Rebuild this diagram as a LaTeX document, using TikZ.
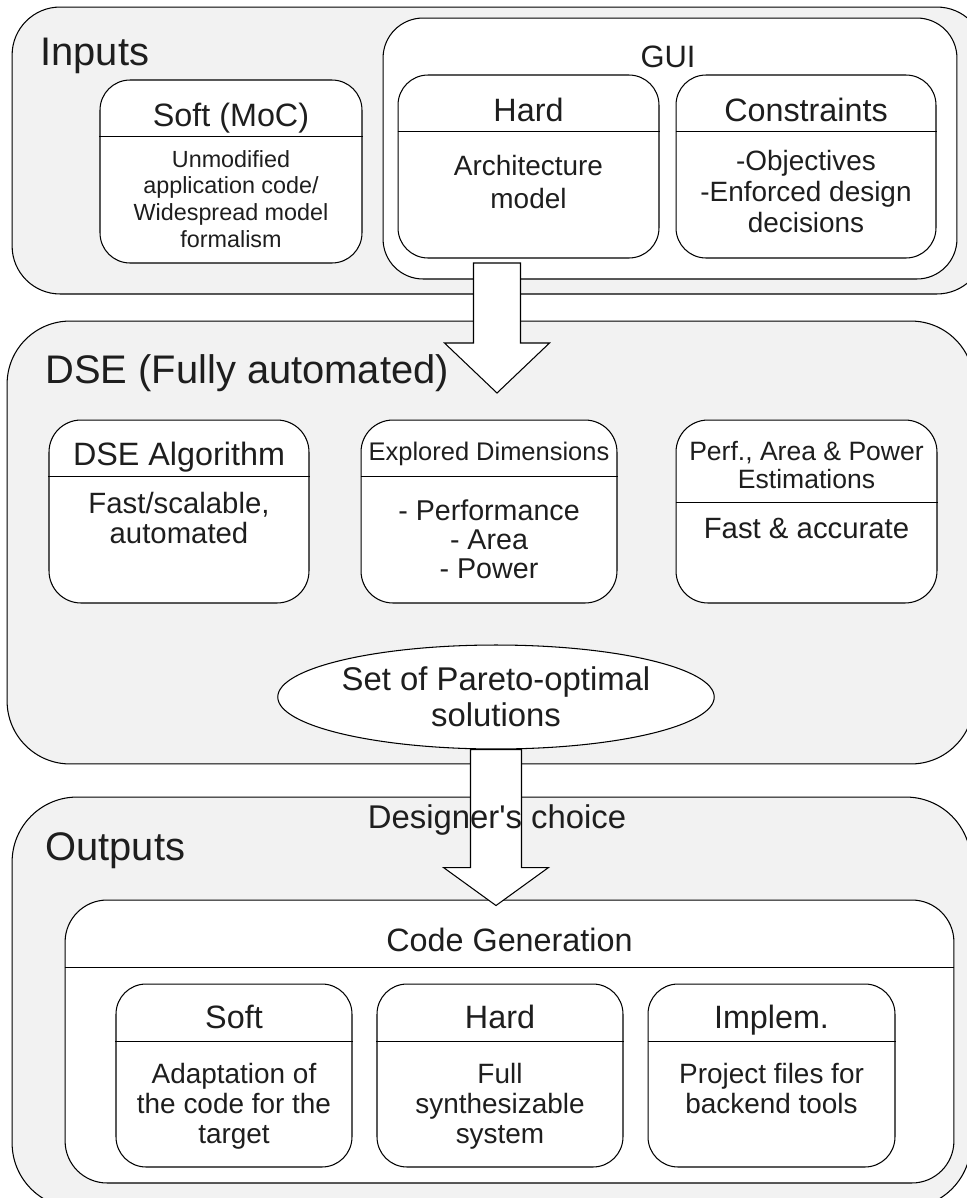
\documentclass[tikz,border=0pt]{standalone}
\usepackage{fontspec}
\setmainfont{Liberation Sans}[Ligatures=TeXOff]
\usepackage{tikz}
\usetikzlibrary{shapes.geometric}

\definecolor{panelgray}{RGB}{242,242,242}
\definecolor{ink}{RGB}{30,30,30}

\begin{document}
\begin{tikzpicture}[x=0.02cm,y=-0.02cm,line width=0.6pt]
	\tikzstyle{panel}=[rectangle, draw=black, fill=panelgray, inner sep=0pt]
	\tikzstyle{box}=[rectangle, draw=black, fill=white, minimum height=3.66cm, rounded corners=0.6cm, inner sep=0pt]
	\tikzstyle{big}=[anchor=base west, inner sep=0pt, text=ink, font=\fontsize{22.7}{26}\selectfont]
	\tikzstyle{head}=[anchor=base, inner sep=0pt, text=ink, font=\fontsize{18.4}{21}\selectfont]
	\tikzstyle{body}=[anchor=north, align=center, inner sep=0pt, text=ink, font=\fontsize{15.9}{17}\selectfont]
	\tikzstyle{hollow arrow}=[draw=black, fill=white, line join=miter]

	\useasboundingbox (0,0) rectangle (967,1198);
	\clip (0,0) rectangle (967,1198);

	% inputs
	\node [panel, minimum width=19.46cm, minimum height=5.74cm, rounded corners=0.96cm] (inputs) at (498.5,150.5) {};
	\node [big] (inputslbl) at (40,65) {Inputs};
	\node [box] (soft) [minimum width=5.24cm] at (231,171.5) {};
	\draw ([yshift=-1.14cm]soft.north west) -- ([yshift=-1.14cm]soft.north east);
	\node [head] (softtitle) at (231,126) {Soft (MoC)};
	\node [body, font=\fontsize{13.3}{15.1}\selectfont] (softtext) at (231,150) {Unmodified\\application code/\\Widespread model\\formalism};
	\node [panel, fill=white, minimum width=11.48cm, minimum height=5.22cm, rounded corners=0.8cm] (gui) at (670,148.5) {};
	\node [head, font=\fontsize{17.6}{20}\selectfont] (guilbl) at (668,67) {GUI};
	\node [box] (hard) [minimum width=5.22cm] at (528.5,166.5) {};
	\draw ([yshift=-1.14cm]hard.north west) -- ([yshift=-1.14cm]hard.north east);
	\node [head] (hardtitle) at (528.5,121) {Hard};
	\node [body, font=\fontsize{15.9}{18.7}\selectfont] (hardtext) at (528.5,155) {Architecture\\model};
	\node [box] (constr) [minimum width=5.2cm] at (806,166.5) {};
	\draw ([yshift=-1.14cm]constr.north west) -- ([yshift=-1.14cm]constr.north east);
	\node [head] (constrtitle) at (806,121) {Constraints};
	\node [body, font=\fontsize{15.9}{17.6}\selectfont] (constrtext) at (806,150) {-Objectives\\-Enforced design\\decisions};

	% dse
	\node [panel, minimum width=19.34cm, minimum height=8.86cm, rounded corners=1.26cm] (dse) at (490.5,542.5) {};
	\node [big] (dselbl) at (45,383) {DSE (Fully automated)};
	\node [box, rounded corners=0.64cm] (alg) [minimum width=5.2cm] at (179,511.5) {};
	\draw ([yshift=-1.14cm]alg.north west) -- ([yshift=-1.14cm]alg.north east);
	\node [head] (algtitle) at (179,465) {DSE Algorithm};
	\node [body, font=\fontsize{16.7}{17}\selectfont] (algtext) at (179,492) {Fast/scalable,\\automated};
	\node [box, rounded corners=0.64cm] (dims) [minimum width=5.12cm] at (489,511.5) {};
	\draw ([yshift=-1.14cm]dims.north west) -- ([yshift=-1.14cm]dims.north east);
	\node [head, font=\fontsize{14.5}{16}\selectfont] (dimstitle) at (489,460) {Explored Dimensions};
	\node [body, font=\fontsize{16.3}{16.4}\selectfont] (dimstext) at (489,499.5) {- Performance\\- Area\\- Power};
	\node [box, rounded corners=0.64cm] (est) [minimum width=5.22cm] at (806.5,511.5) {};
	\draw ([yshift=-1.66cm]est.north west) -- ([yshift=-1.66cm]est.north east);
	\node [body, font=\fontsize{15.1}{15.9}\selectfont] (esttitle) at (806.5,441) {Perf., Area \& Power\\Estimations};
	\node [head, font=\fontsize{16.7}{17}\selectfont] (esttext) at (806.5,538) {Fast \& accurate};
	\node [ellipse, draw=black, fill=white, inner sep=0pt, minimum width=7.84cm, minimum height=2.08cm, align=center, text=ink, font=\fontsize{18.7}{20.4}\selectfont] (pareto) at (496,697) {Set of Pareto-optimal\\solutions};

	% outputs
	\node [panel, minimum width=19.18cm, minimum height=8.22cm, rounded corners=1.3cm] (outputs) at (491.5,1002.5) {};
	\node [big] (outputslbl) at (45,860) {Outputs};
	\node [box, minimum width=17.78cm, minimum height=5.66cm, rounded corners=0.84cm] (codegen) at (509.5,1041.5) {};
	\draw ([yshift=-1.36cm]codegen.north west) -- ([yshift=-1.36cm]codegen.north east);
	\node [head] (codegentitle) at (509.5,951) {Code Generation};
	\node [box] (gsoft) [minimum width=4.72cm] at (234,1075.5) {};
	\draw ([yshift=-1.16cm]gsoft.north west) -- ([yshift=-1.16cm]gsoft.north east);
	\node [head] (gsofttitle) at (234,1028) {Soft};
	\node [body] (gsofttext) at (234,1063) {Adaptation of\\the code for the\\target};
	\node [box] (ghard) [minimum width=4.92cm] at (500,1075.5) {};
	\draw ([yshift=-1.16cm]ghard.north west) -- ([yshift=-1.16cm]ghard.north east);
	\node [head] (ghardtitle) at (500,1028) {Hard};
	\node [body] (ghardtext) at (500,1063) {Full\\synthesizable\\system};
	\node [box] (gimpl) [minimum width=4.94cm] at (771.5,1075.5) {};
	\draw ([yshift=-1.16cm]gimpl.north west) -- ([yshift=-1.16cm]gimpl.north east);
	\node [head] (gimpltitle) at (771.5,1028) {Implem.};
	\node [body] (gimpltext) at (771.5,1063) {Project files for\\backend tools};

	% arrows
	\coordinate (guiout) at (497,263);
	\draw [hollow arrow] (guiout) ++(-23.5,0) -- ++(47,0) -- ++(0,80) -- ++(29,0) -- ++(-52.5,50) -- ++(-52.5,-50) -- ++(29,0) -- cycle;
	\draw [hollow arrow] (pareto.south) ++(-25.5,0) -- ++(51,0) -- ++(0,118) -- ++(27,0) -- ++(-52.5,38) -- ++(-52.5,-38) -- ++(27,0) -- cycle;
	\node [head, font=\fontsize{18.7}{21}\selectfont] (choice) at (497,828) {Designer's choice};
\end{tikzpicture}
\end{document}
